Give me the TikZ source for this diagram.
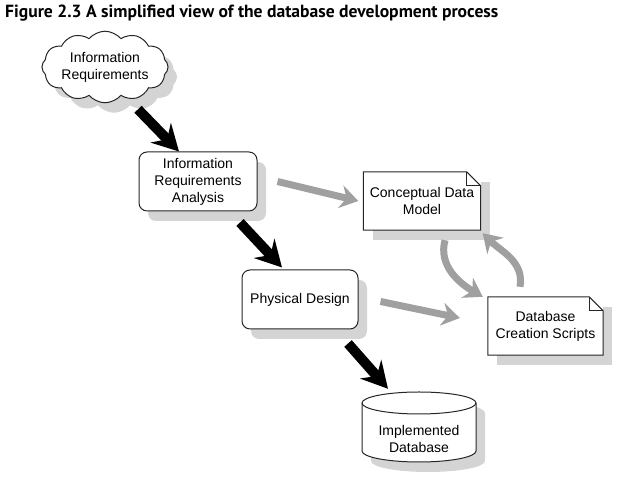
\documentclass[tikz,border=0pt]{standalone}
\usepackage{fontspec}
\setmainfont{Liberation Sans}
\newfontfamily\titlefont{PT Sans}
\usepackage{tikz}
\usetikzlibrary{arrows.meta}
\usetikzlibrary{shapes.symbols}
\usetikzlibrary{shadows}
\usepackage{xcolor}
\definecolor{ombre}{RGB}{212,212,212}
\definecolor{flechegris}{RGB}{160,160,160}

\tikzset{
  texte/.style={font=\fontsize{14}{17}\selectfont, align=center},
  ombrage/.style={drop shadow={shadow xshift=9pt, shadow yshift=-10pt, fill=ombre, opacity=1}},
  trait/.style={draw=black!85, line width=1pt},
  boite/.style={texte, trait, fill=white, rounded corners=8pt, minimum width=118pt, minimum height=59pt, ombrage},
  nuage/.style={texte, trait, cloud, fill=white, cloud puffs=12, cloud puff arc=100, aspect=2.1, minimum width=126pt, minimum height=60pt, inner sep=0pt, ombrage},
  doc/.style={texte, fill=white, minimum width=117pt, minimum height=58pt, ombrage},
  grosse/.style={line width=10pt, black, -{Stealth[length=26pt, width=28pt, inset=9pt]}},
  grise/.style={line width=7pt, flechegris, -{Stealth[length=18pt, width=23pt, inset=6pt]}},
}

% feuille avec coin plie
\newcommand{\feuille}[1]{%
  \draw[trait] (#1.south west) -- (#1.south east) -- ([yshift=-14pt]#1.north east)
    -- ([xshift=-14pt]#1.north east) -- (#1.north west) -- cycle;
  \draw[trait] ([xshift=-14pt]#1.north east) |- ([yshift=-14pt]#1.north east);
}

\begin{document}
\begin{tikzpicture}[x=1pt, y=1pt]
    \useasboundingbox (0,0) rectangle (625,481);
    % titre
    \node[anchor=base west, inner sep=0pt, font=\titlefont\bfseries\fontsize{17.6}{20}\selectfont] (titre) at (5,463) {Figure 2.3 A simplified view of the database development process};
    % etapes
    \node[nuage] (besoins) at (105,414) {Information\\Requirements};
    \node[boite] (analyse) at (198,299.5) {Information\\Requirements\\Analysis};
    \node[boite, minimum width=116pt] (physique) at (300,181.5) {Physical Design};
    % documents
    \node[doc] (modele) at (422,280) {Conceptual Data\\Model};
    \feuille{modele}
    \node[doc, minimum width=115pt] (scripts) at (545.5,155) {Database\\Creation Scripts};
    \feuille{scripts}
    %cylindre
    \node[minimum width=114pt, minimum height=70pt, inner sep=0pt] (base) at (419,54) {};
    \fill[ombre] (371,68) -- (371,20) arc[start angle=180, end angle=360, x radius=57pt, y radius=11pt]
        -- (485,68) arc[start angle=0, end angle=180, x radius=57pt, y radius=11pt] -- cycle;
    \filldraw[trait, fill=white] (362,78) -- (362,30) arc[start angle=180, end angle=360, x radius=57pt, y radius=11pt]
        -- (476,78) arc[start angle=0, end angle=180, x radius=57pt, y radius=11pt] -- cycle;
    \draw[trait] (362,78) arc[start angle=180, end angle=360, x radius=57pt, y radius=11pt];
    \node[texte] (basetexte) at ([yshift=-12pt]base.center) {Implemented\\Database};
    % fleches noires
    \draw[grosse] ([xshift=33pt, yshift=-6pt]besoins.south) -- ([xshift=-19pt]analyse.north);
    \draw[grosse] ([xshift=42pt, yshift=-11pt]analyse.south) -- ([xshift=-18pt, yshift=2pt]physique.north);
    \draw[grosse] ([xshift=48pt, yshift=-14pt]physique.south) -- ([xshift=-31pt, yshift=3pt]base.north);
    % fleches grises
    \draw[grise] ([xshift=20pt]analyse.east) -- ([xshift=-5pt]modele.west);
    \draw[grise] ([xshift=22pt, yshift=-2pt]physique.east) -- ([xshift=-28pt, yshift=8pt]scripts.west);
    \draw[grise] ([xshift=23pt, yshift=-10pt]modele.south) to[out=-105, in=150] ([xshift=-5pt]scripts.north west);
    \draw[grise] ([xshift=-25.5pt, yshift=10pt]scripts.north) to[out=80, in=-45] ([xshift=2pt, yshift=-3pt]modele.south east);
\end{tikzpicture}
\end{document}
